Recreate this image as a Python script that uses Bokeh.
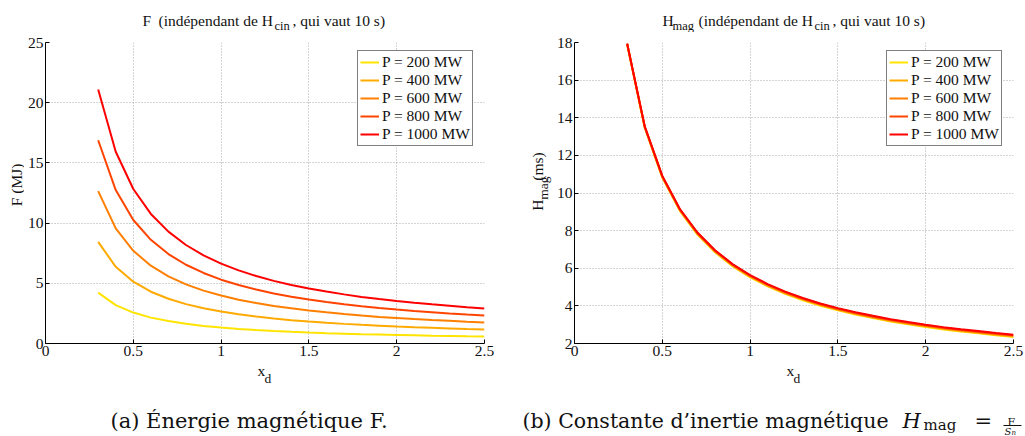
from math import pi
from bokeh.plotting import figure
from bokeh.models import (Range1d, FixedTicker, CustomJSTickFormatter, Label,
                          Legend, LegendItem)
from bokeh.layouts import row, column
from bokeh.embed import file_html
from bokeh.resources import INLINE

# ---------------- data ----------------
xd = [0.3, 0.4, 0.5, 0.6, 0.7, 0.8, 0.9, 1.0, 1.1, 1.2, 1.3, 1.4, 1.5, 1.6,
      1.7, 1.8, 1.9, 2.0, 2.1, 2.2, 2.3, 2.4, 2.5]

F200 = [4.22, 3.19, 2.57, 2.15, 1.86, 1.64, 1.46, 1.33, 1.21, 1.12, 1.04, 0.97,
        0.91, 0.86, 0.82, 0.77, 0.74, 0.71, 0.68, 0.65, 0.63, 0.60, 0.58]
F400 = [8.44, 6.37, 5.13, 4.30, 3.72, 3.27, 2.93, 2.65, 2.43, 2.24, 2.08, 1.94,
        1.82, 1.72, 1.63, 1.55, 1.48, 1.41, 1.35, 1.30, 1.25, 1.20, 1.16]
F600 = [12.66, 9.56, 7.70, 6.46, 5.57, 4.91, 4.39, 3.98, 3.64, 3.36, 3.12, 2.92,
        2.74, 2.59, 2.45, 2.32, 2.21, 2.12, 2.03, 1.95, 1.88, 1.81, 1.75]
F800 = [16.88, 12.74, 10.26, 8.61, 7.43, 6.54, 5.86, 5.30, 4.86, 4.48, 4.16, 3.89,
        3.65, 3.45, 3.26, 3.10, 2.95, 2.82, 2.70, 2.60, 2.50, 2.41, 2.33]
F1000 = [21.10, 15.93, 12.83, 10.76, 9.29, 8.18, 7.32, 6.63, 6.07, 5.60, 5.20, 4.86,
         4.56, 4.31, 4.08, 3.87, 3.69, 3.53, 3.38, 3.25, 3.13, 3.01, 2.91]

H200 = [17.90, 13.47, 10.82, 9.05, 7.79, 6.85, 6.11, 5.52, 5.04, 4.64, 4.30, 4.01,
        3.76, 3.54, 3.35, 3.17, 3.02, 2.88, 2.75, 2.64, 2.54, 2.44, 2.35]
H400 = [17.91, 13.49, 10.84, 9.08, 7.82, 6.88, 6.14, 5.55, 5.07, 4.67, 4.33, 4.04,
        3.79, 3.57, 3.38, 3.20, 3.05, 2.91, 2.78, 2.67, 2.57, 2.47, 2.38]
H600 = [17.92, 13.51, 10.87, 9.11, 7.85, 6.91, 6.17, 5.58, 5.10, 4.70, 4.36, 4.07,
        3.82, 3.60, 3.41, 3.23, 3.08, 2.94, 2.81, 2.70, 2.60, 2.50, 2.41]
H800 = [17.93, 13.53, 10.89, 9.13, 7.88, 6.94, 6.20, 5.61, 5.13, 4.73, 4.39, 4.10,
        3.85, 3.63, 3.44, 3.26, 3.11, 2.97, 2.84, 2.73, 2.63, 2.53, 2.44]
H1000 = [17.94, 13.55, 10.91, 9.15, 7.90, 6.96, 6.22, 5.64, 5.16, 4.76, 4.42, 4.13,
         3.88, 3.66, 3.47, 3.29, 3.14, 3.00, 2.87, 2.76, 2.66, 2.56, 2.47]

labels = ["P = 200 MW", "P = 400 MW", "P = 600 MW", "P = 800 MW", "P = 1000 MW"]
colors = ["#FFE400", "#FFAA00", "#FF7F00", "#FF4400", "#FF0000"]
F_series = [F200, F400, F600, F800, F1000]
H_series = [H200, H400, H600, H800, H1000]

x_ticks = [0, 0.5, 1, 1.5, 2, 2.5]
F_ticks = [0, 5, 10, 15, 20, 25]
H_ticks = [2, 4, 6, 8, 10, 12, 14, 16, 18]

SERIF = "Liberation Serif"
CAP = "DejaVu Serif"
FS = "15.5px"
SUB = "13.5px"
TSUB = "12.5px"
CAPFS = "21px"
TXT = "#111111"

TOP_H = 32      # title strip
MID_H = 331     # plot strip (ends at page y 363)
BOT_H = 73      # x-label + caption strip
MID_Y = TOP_H
BOT_Y = TOP_H + MID_H


def make_fig(width, ylo, yhi, yticks, bl, br, bt, bb):
    p = figure(width=width, height=MID_H, x_range=Range1d(0, 2.5),
               y_range=Range1d(ylo, yhi), output_backend="svg",
               toolbar_location=None, min_border_left=bl, min_border_right=br,
               min_border_top=bt, min_border_bottom=bb)
    p.outline_line_color = None
    p.background_fill_color = "white"
    p.border_fill_color = "white"
    for g in (p.xgrid, p.ygrid):
        g.grid_line_color = "#a8a8a8"
        g.grid_line_dash = "1 2"
        g.grid_line_width = 1
    p.xaxis.ticker = FixedTicker(ticks=x_ticks)
    p.yaxis.ticker = FixedTicker(ticks=yticks)
    fmt = "return tick.toString();"
    p.xaxis.formatter = CustomJSTickFormatter(code=fmt)
    p.yaxis.formatter = CustomJSTickFormatter(code=fmt)
    for ax in (p.xaxis, p.yaxis):
        ax.axis_line_color = "black"
        ax.axis_line_width = 1
        ax.major_tick_in = 4
        ax.major_tick_out = 0
        ax.major_tick_line_color = "black"
        ax.minor_tick_line_color = None
        ax.major_label_text_font = SERIF
        ax.major_label_text_font_size = FS
        ax.major_label_text_color = TXT
    p.xaxis.major_label_standoff = 2
    p.yaxis.major_label_standoff = 2
    return p


def add_lines(p, series):
    items = []
    for ys, c, lab in zip(series, colors, labels):
        r = p.line(xd, ys, line_color=c, line_width=2)
        items.append(LegendItem(label=lab, renderers=[r]))
    leg = Legend(items=items, location=(312, 197), margin=0, padding=2,
                 spacing=0, label_height=18, glyph_height=18, glyph_width=19,
                 label_standoff=3, border_line_color="black",
                 border_line_width=1.3, background_fill_color="white",
                 background_fill_alpha=1.0, label_text_font=SERIF,
                 label_text_font_size=FS, label_text_color=TXT)
    p.add_layout(leg)


def text_fig(w, h):
    f = figure(width=w, height=h, x_range=Range1d(0, w), y_range=Range1d(h, 0),
               output_backend="svg", toolbar_location=None, min_border=0,
               x_axis_location=None, y_axis_location=None)
    f.grid.visible = False
    f.outline_line_color = None
    f.background_fill_color = "white"
    f.border_fill_color = "white"
    return f


def txt(f, ox, oy, px, py, s, size=FS, angle=0, font=SERIF, style="normal"):
    """Place text with its baseline start at page pixel (px, py)."""
    f.add_layout(Label(x=px - ox, y=py - oy, text=s, text_font=font,
                       text_font_size=size, text_font_style=style,
                       text_baseline="alphabetic", text_align="left",
                       angle=angle, text_color=TXT))


# ---------------- title strip ----------------
top = text_fig(1025, TOP_H)
txt(top, 0, 0, 142, 20, "F")
txt(top, 0, 0, 158, 20, "(indépendant de H")
txt(top, 0, 0, 274, 25.5, "cin", size=TSUB)
txt(top, 0, 0, 292, 20, ", qui vaut 10 s)")
txt(top, 0, 0, 662, 20, "H")
txt(top, 0, 0, 672, 25, "mag", size=TSUB)
txt(top, 0, 0, 698, 20, "(indépendant de H")
txt(top, 0, 0, 814, 25.5, "cin", size=TSUB)
txt(top, 0, 0, 832, 20, ", qui vaut 10 s)")

# ---------------- plot strip ----------------
YL1_W, P1_W, YL2_W, P2_W = 24, 502, 27, 472
ylab1 = text_fig(YL1_W, MID_H)
txt(ylab1, 0, MID_Y, 16, 212, "F (MJ)", angle=pi / 2)

p1 = make_fig(P1_W, 0, 25, F_ticks, 20, 42, 41 - MID_Y, BOT_Y - 343)
add_lines(p1, F_series)

x2 = YL1_W + P1_W
ylab2 = text_fig(YL2_W, MID_H)
txt(ylab2, x2, MID_Y, 537, 217, "H", angle=pi / 2)
txt(ylab2, x2, MID_Y, 543, 205, "mag", size=SUB, angle=pi / 2)
txt(ylab2, x2, MID_Y, 537, 184, "(ms)", angle=pi / 2)

p2 = make_fig(P2_W, 2, 18, H_ticks, 20, 12, 42 - MID_Y, BOT_Y - 343)
add_lines(p2, H_series)

# ---------------- x-labels + captions strip ----------------
bot = text_fig(1025, BOT_H)
txt(bot, 0, BOT_Y, 257, 370, "x")
txt(bot, 0, BOT_Y, 264, 378, "d", size=SUB)
txt(bot, 0, BOT_Y, 786, 370, "x")
txt(bot, 0, BOT_Y, 793, 378, "d", size=SUB)
txt(bot, 0, BOT_Y, 110, 420, "(a) Énergie magnétique F.", size=CAPFS, font=CAP)
txt(bot, 0, BOT_Y, 522, 420, "(b) Constante d’inertie magnétique", size="20.5px", font=CAP)
txt(bot, 0, BOT_Y, 902, 420, "H", size=CAPFS, font=CAP, style="italic")
txt(bot, 0, BOT_Y, 923, 424, "mag", size="15px", font=CAP)
txt(bot, 0, BOT_Y, 974, 420, "=", size=CAPFS, font=CAP)
txt(bot, 0, BOT_Y, 1007, 422, "F", size="11px", font=CAP)
# fraction bar
bot.segment(x0=[1003], y0=[425 - BOT_Y], x1=[1021], y1=[425 - BOT_Y],
            line_color=TXT, line_width=1)
txt(bot, 0, BOT_Y, 1004, 431, "S", size="10px", font=CAP, style="italic")
txt(bot, 0, BOT_Y, 1011, 432, "n", size="7px", font=CAP, style="italic")

layout = column(top, row(ylab1, p1, ylab2, p2), bot)
open("out.html", "w").write(file_html(layout, INLINE))
